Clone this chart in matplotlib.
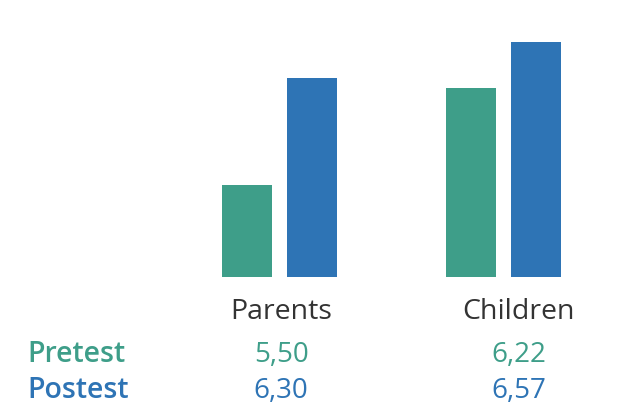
import matplotlib.pyplot as plt
import matplotlib.transforms as mtransforms

# datos
grupos = ["Parents", "Children"]
series = ["Pretest", "Postest"]
pretest = [5.50, 6.22]
postest = [6.30, 6.57]
etiquetas_pre = ["5,50", "6,22"]
etiquetas_post = ["6,30", "6,57"]

COLOR_PRE = "#3E9E89"
COLOR_POST = "#2E74B5"
COLOR_TEXTO = "#333333"

W, H = 630, 405
fig = plt.figure(figsize=(W / 100, H / 100), dpi=100)
plt.rcParams['font.family'] = ['Open Sans', 'DejaVu Sans']

# eje: base de las barras en y=277px, ocupa todo el ancho
base_px = 277
ax = fig.add_axes([0, (H - base_px) / H, 1, base_px / H])
ax.set_xlim(-279 / 224, (W - 279) / 224)
ax.set_ylim(4.81, 4.81 + base_px / 133.75)
ax.axis("off")

ancho = 50 / 224
desp = 32.5 / 224
x = list(range(len(grupos)))
ax.bar([i - desp for i in x], pretest, width=ancho, color=COLOR_PRE)
ax.bar([i + desp for i in x], postest, width=ancho, color=COLOR_POST)

# tabla de etiquetas debajo
trans = mtransforms.blended_transform_factory(ax.transData, fig.transFigure)
pos_texto = [0.01, 1.07]
fila_y = [(H - 312) / H, (H - 355) / H, (H - 391) / H]

for i, g in enumerate(grupos):
    ax.text(pos_texto[i], fila_y[0], g, transform=trans, ha="center", va="center",
            fontsize=20.5, color=COLOR_TEXTO, fontweight="medium", clip_on=False)
    ax.text(pos_texto[i], fila_y[1], etiquetas_pre[i], transform=trans, ha="center",
            va="center", fontsize=20, color=COLOR_PRE, clip_on=False)
    ax.text(pos_texto[i], fila_y[2], etiquetas_post[i], transform=trans, ha="center",
            va="center", fontsize=20, color=COLOR_POST, clip_on=False)

fig.text(27 / W, fila_y[1], series[0], ha="left", va="center", fontsize=20.5,
         fontweight="semibold", color=COLOR_PRE)
fig.text(27 / W, fila_y[2], series[1], ha="left", va="center", fontsize=20.5,
         fontweight="semibold", color=COLOR_POST)

fig.savefig("out.png", dpi=100)
